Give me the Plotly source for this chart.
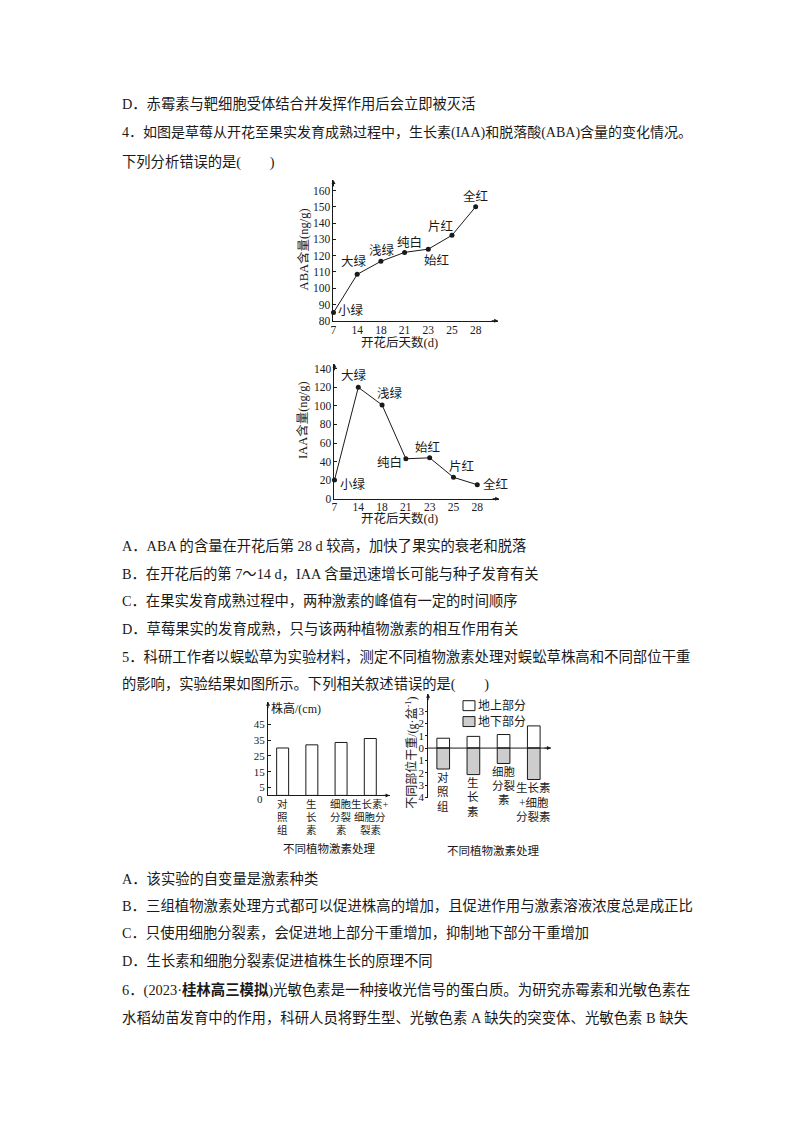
import plotly.graph_objects as go

# ---- 数据 ----
days = ["7", "14", "18", "21", "23", "25", "28"]
stages = ["小绿", "大绿", "浅绿", "纯白", "始红", "片红", "全红"]
aba = [85, 108.5, 116.5, 122, 124, 132.5, 150]
iaa = [20, 120, 101, 43, 44, 23, 15]

groups = ["对照组", "生长素", "细胞分裂素", "生长素+细胞分裂素"]
group_lines_1 = [["对", "照", "组"], ["生", "长", "素"], ["细胞", "分裂", "素"], ["生长素+", "细胞分", "裂素"]]
group_lines_2 = [["对", "照", "组"], ["生", "长", "素"], ["细胞", "分裂", "素"], ["生长素", "+细胞", "分裂素"]]
height_cm = [30, 32, 33.5, 36]
above_ground = [0.8, 0.95, 1.1, 1.8]
below_ground = [-1.7, -2.15, -1.25, -2.55]

FONT = "Liberation Serif, Noto Sans CJK SC"
INK = "#1a1a1a"
W, H = 800, 1132
OFF = 8  # 页面 body 默认的 8px 边距

# 天数按等距排列
idx = list(range(len(days)))

fig = go.Figure()

# 折线图 ABA / IAA
fig.add_trace(go.Scatter(x=idx, y=aba, mode="lines+markers", xaxis="x", yaxis="y",
                         line=dict(color=INK, width=1), marker=dict(color=INK, size=5),
                         cliponaxis=False, showlegend=False))
fig.add_trace(go.Scatter(x=idx, y=iaa, mode="lines+markers", xaxis="x2", yaxis="y2",
                         line=dict(color=INK, width=1), marker=dict(color=INK, size=5),
                         cliponaxis=False, showlegend=False))

# 柱状图 株高
fig.add_trace(go.Bar(x=groups, y=height_cm, xaxis="x3", yaxis="y3", width=0.41,
                     marker=dict(color="white", line=dict(color=INK, width=1)), showlegend=False))

# 柱状图 干重
fig.add_trace(go.Bar(x=groups, y=above_ground, xaxis="x4", yaxis="y4", width=0.42,
                     marker=dict(color="white", line=dict(color=INK, width=1)), showlegend=False))
fig.add_trace(go.Bar(x=groups, y=below_ground, xaxis="x4", yaxis="y4", width=0.42,
                     marker=dict(color="#cdcdcd", line=dict(color=INK, width=1)), showlegend=False))


def px(x):
    return (x - OFF) / W


def py(y):
    return 1 - (y - OFF) / H


tickfont = dict(family=FONT, size=11.5, color=INK)
axis_common = dict(showline=True, linecolor=INK, linewidth=1, showgrid=False, zeroline=False,
                   ticks="inside", ticklen=3, tickcolor=INK, tickfont=tickfont)
xline = dict(axis_common, ticks="", ticklabelstandoff=-2)

fig.update_layout(
    width=W, height=H, margin=dict(l=0, r=0, t=0, b=0),
    paper_bgcolor="white", plot_bgcolor="rgba(0,0,0,0)",
    barmode="relative",
    xaxis=dict(xline, domain=[px(331.7), px(497)], anchor="y", range=[0, 6.95],
               tickvals=idx, ticktext=days),
    yaxis=dict(axis_common, domain=[py(321.7), py(180)], anchor="x", range=[80, 166.5],
               tickvals=[80, 90, 100, 110, 120, 130, 140, 150, 160]),
    xaxis2=dict(xline, domain=[px(332.7), px(498)], anchor="y2", range=[0, 6.92],
                tickvals=idx, ticktext=days),
    yaxis2=dict(axis_common, domain=[py(500.7), py(365)], anchor="x2", range=[0, 145.4],
                tickvals=[0, 20, 40, 60, 80, 100, 120, 140]),
    xaxis3=dict(axis_common, domain=[px(266), px(388)], anchor="y3", type="category", range=[-0.5, 3.66],
                ticks="", showticklabels=False),
    yaxis3=dict(axis_common, domain=[py(799.3), py(705)], anchor="x3", range=[0, 59.3],
                tickvals=[5, 15, 25, 35, 45], tickfont=dict(family=FONT, size=11, color=INK)),
    xaxis4=dict(axis_common, domain=[px(426.7), px(550)], anchor="y4", type="category", range=[-0.5, 3.57],
                showline=False, ticks="", showticklabels=False),
    yaxis4=dict(axis_common, domain=[py(801.9), py(697)], anchor="x4", range=[-4.05, 4.41],
                ticks="outside", ticklen=2, ticklabelstandoff=-1,
                tickvals=[-4, -3, -2, -1, 0, 1, 2, 3], ticktext=["4", "3", "2", "1", "0", "1", "2", "3"],
                tickfont=dict(family=FONT, size=11, color=INK)),
)

ann = []


def text(x, y, s, size=14, anchor="left", angle=0):
    ann.append(dict(x=px(x), y=py(y), xref="paper", yref="paper", text=s, showarrow=False,
                    xanchor=anchor, yanchor="middle", textangle=angle,
                    font=dict(family=FONT, size=size, color=INK)))


def arrow(xref, yref, x, y, ax, ay):
    ann.append(dict(x=x, y=y, xref=xref, yref=yref, text="", showarrow=True, ax=ax, ay=ay,
                    arrowhead=2, arrowsize=0.8, arrowwidth=1, arrowcolor=INK))


# 坐标轴箭头
for xa, ya in [("x", "y"), ("x2", "y2"), ("x3", "y3")]:
    arrow(xa + " domain", ya + " domain", 1, 0, -8, 0)
    arrow(xa + " domain", ya + " domain", 0, 1, 0, 8)
arrow("x4 domain", "y4", 1, 0, -8, 0)
arrow("x4 domain", "y4 domain", 0, 1, 0, 8)

# 株高图的 0 刻度略低于轴线
ann.append(dict(x=0, y=0, xref="x3 domain", yref="y3", text="0", showarrow=False,
                xanchor="right", xshift=-3, yshift=-4, font=dict(family=FONT, size=11, color=INK)))

# 折线上的阶段标注
aba_off = [("left", 3, 2), ("center", -3, 13), ("center", 1, 11), ("center", 5, 10),
           ("center", 8, -11), ("center", -11, 9), ("center", 0, 10)]
iaa_off = [("left", 4, -4), ("center", -4, 12), ("center", 8, 11), ("center", -16, -4),
           ("center", -2, 10), ("center", 8, 11), ("left", 4, 0)]
for i, s, v, (xa, dx, dy) in zip(idx, stages, aba, aba_off):
    ann.append(dict(x=i, y=v, xref="x", yref="y", text=s, showarrow=False, xanchor=xa,
                    xshift=dx, yshift=dy, font=dict(family=FONT, size=12.5, color=INK)))
for i, s, v, (xa, dx, dy) in zip(idx, stages, iaa, iaa_off):
    ann.append(dict(x=i, y=v, xref="x2", yref="y2", text=s, showarrow=False, xanchor=xa,
                    xshift=dx, yshift=dy, font=dict(family=FONT, size=12.5, color=INK)))

# 柱状图分组标签
for g, lines in zip(groups, group_lines_1):
    for k, s in enumerate(lines):
        ann.append(dict(x=g, y=0, xref="x3", yref="y3", text=s, showarrow=False,
                        yanchor="middle", yshift=-9 - 13 * k,
                        font=dict(family=FONT, size=10.5, color=INK)))
for g, lines, v in zip(groups, group_lines_2, below_ground):
    for k, s in enumerate(lines):
        ann.append(dict(x=g, y=v, xref="x4", yref="y4", text=s, showarrow=False,
                        yanchor="middle", yshift=-8 - 14.5 * k,
                        font=dict(family=FONT, size=11.5, color=INK)))

# 轴标题
text(302, 250, "ABA含量(ng/g)", 12.5, "center", -90)
text(398.3, 343.3, "开花后天数(d)", 12.5, "center")
text(300.7, 422, "IAA含量(ng/g)", 12.5, "center", -90)
text(398, 520.7, "开花后天数(d)", 12.5, "center")
text(267, 712, "株高/(cm)", 12)
text(326.7, 853, "不同植物激素处理", 11.5, "center")
text(410, 756, "不同部位干重/(g·盆<sup>-1</sup>)", 12, "center", -90)
text(491.7, 855, "不同植物激素处理", 11.5, "center")
text(475, 709, "地上部分", 12)
text(475, 725, "地下部分", 12)

# 正文
body = [
    (104, "D．赤霉素与靶细胞受体结合并发挥作用后会立即被灭活", 14.3),
    (133, "4．如图是草莓从开花至果实发育成熟过程中，生长素(IAA)和脱落酸(ABA)含量的变化情况。", 14),
    (162, "下列分析错误的是(　　)", 14.3),
    (548, "A．ABA 的含量在开花后第 28 d 较高，加快了果实的衰老和脱落", 14.3),
    (576, "B．在开花后的第 7～14 d，IAA 含量迅速增长可能与种子发育有关", 14.3),
    (604, "C．在果实发育成熟过程中，两种激素的峰值有一定的时间顺序", 14.3),
    (632, "D．草莓果实的发育成熟，只与该两种植物激素的相互作用有关", 14.3),
    (660, "5．科研工作者以蜈蚣草为实验材料，测定不同植物激素处理对蜈蚣草株高和不同部位干重", 14.4),
    (688, "的影响，实验结果如图所示。下列相关叙述错误的是(　　)", 14.3),
    (883, "A．该实验的自变量是激素种类", 14.3),
    (911, "B．三组植物激素处理方式都可以促进株高的增加，且促进作用与激素溶液浓度总是成正比", 14.4),
    (938, "C．只使用细胞分裂素，会促进地上部分干重增加，抑制地下部分干重增加", 14.3),
    (966, "D．生长素和细胞分裂素促进植株生长的原理不同", 14.3),
    (995, "6．(2023·<b>桂林高三模拟</b>)光敏色素是一种接收光信号的蛋白质。为研究赤霉素和光敏色素在", 14.4),
    (1023, "水稻幼苗发育中的作用，科研人员将野生型、光敏色素 A 缺失的突变体、光敏色素 B 缺失", 14.4),
]
for y, s, size in body:
    text(117, y, s, size)

fig.update_layout(annotations=ann)

# 图例方框与干重图的 0 刻度线
fig.update_layout(shapes=[
    dict(type="rect", xref="paper", yref="paper", x0=px(461.7), x1=px(473.7), y0=py(714), y1=py(704),
         line=dict(color=INK, width=1), fillcolor="white"),
    dict(type="rect", xref="paper", yref="paper", x0=px(461.7), x1=px(473.7), y0=py(730), y1=py(720),
         line=dict(color=INK, width=1), fillcolor="#cdcdcd"),
    dict(type="line", xref="x4 domain", yref="y4", x0=0, x1=1, y0=0, y1=0,
         line=dict(color=INK, width=1), layer="above"),
])

fig.write_html("out.html")
